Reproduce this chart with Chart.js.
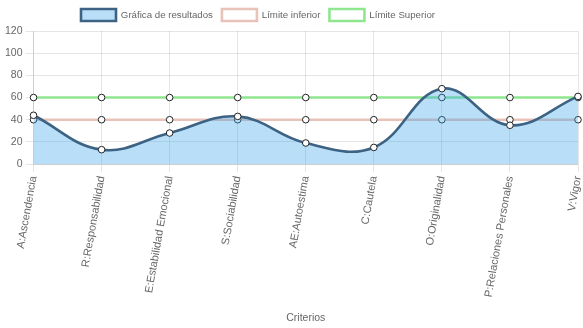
<!DOCTYPE html>
<html>
<head>
<meta charset="utf-8">
<script src="https://cdn.jsdelivr.net/npm/chart.js@4/dist/chart.umd.min.js"></script>
<style>
	html, body { margin: 0; padding: 0; background: #fff; }
	#wrap { width: 583px; height: 328px; }
</style>
</head>
<body>
<div id="wrap"><canvas id="resultadosChart"></canvas></div>
<script>
// Criterios evaluados y puntajes
const criterios = [
	'A:Ascendencia',
	'R:Responsabilidad',
	'E:Estabilidad Emocional',
	'S:Sociabilidad',
	'AE:Autoestima',
	'C:Cautela',
	'O:Originalidad',
	'P:Relaciones Personales',
	'V:Vigor'
];
const resultados = [44, 13, 28, 43, 19, 15, 68, 35, 61];
const limiteInferior = [40, 40, 40, 40, 40, 40, 40, 40, 40];
const limiteSuperior = [60, 60, 60, 60, 60, 60, 60, 60, 60];

Chart.defaults.font.family = 'Arial, "Liberation Sans", sans-serif';
Chart.defaults.font.size = 10.5;
Chart.defaults.color = '#666';

const puntos = {
	pointRadius: 3.3,
	pointBackgroundColor: '#fff',
	pointBorderColor: '#222',
	pointBorderWidth: 1
};

// corre la leyenda un poco a la izquierda del centro
const leyendaIzquierda = {
	id: 'leyendaIzquierda',
	beforeDraw(chart) {
		chart.legend.right = chart.legend.left + chart.legend.width - 68;
	}
};

const ctx = document.getElementById('resultadosChart');

new Chart(ctx, {
	type: 'line',
	data: {
		labels: criterios,
		datasets: [
			{
				label: 'Gráfica de resultados',
				data: resultados,
				borderColor: '#3d6384',
				backgroundColor: 'rgba(54,162,235,0.35)',
				borderWidth: 2.6,
				fill: 'origin',
				tension: 0.4,
				...puntos
			},
			{
				label: 'Límite inferior',
				data: limiteInferior,
				borderColor: '#e8c3b9',
				backgroundColor: '#fff',
				borderWidth: 2.6,
				fill: false,
				tension: 0.4,
				...puntos
			},
			{
				label: 'Límite Superior',
				data: limiteSuperior,
				borderColor: '#8fe68f',
				backgroundColor: '#fff',
				borderWidth: 2.6,
				fill: false,
				tension: 0.4,
				...puntos
			}
		]
	},
	options: {
		responsive: true,
		maintainAspectRatio: false,
		animation: false,
		layout: { padding: { left: 2, right: 1 } },
		plugins: {
			legend: {
				position: 'top',
				labels: { boxWidth: 35, boxHeight: 12, padding: 9, font: { size: 9.7 } }
			},
			tooltip: { enabled: false }
		},
		scales: {
			x: {
				grid: { color: 'rgba(0,0,0,0.1)' },
				ticks: { minRotation: 80, maxRotation: 80, autoSkip: false, font: { size: 11 } },
				title: { display: true, text: 'Criterios', padding: { top: 10, bottom: 4 } },
				// el último rótulo girado no necesita margen a la derecha
				afterFit: (scale) => { scale.paddingRight = 0; }
			},
			y: {
				min: 0,
				max: 120,
				ticks: { stepSize: 20 },
				grid: { color: 'rgba(0,0,0,0.1)' }
			}
		}
	},
	plugins: [leyendaIzquierda]
});
</script>
</body>
</html>
